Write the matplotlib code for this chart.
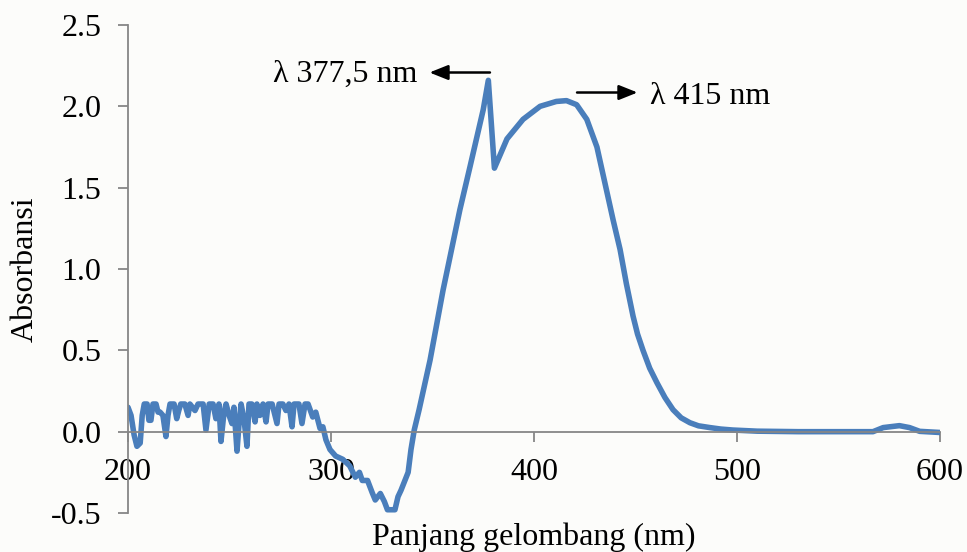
import matplotlib
matplotlib.use("Agg")
import matplotlib.pyplot as plt

# Wavelength (nm) and absorbance
wavelength = [200, 201.5, 203, 204.4, 206, 207, 208, 209.4, 210.3, 211.3, 212.3, 213.8,
              214.8, 215.8, 217.2, 218.7, 219.7, 220.7, 222.7, 224, 225, 226, 228, 229.6,
              230.5, 233, 234.5, 237, 238.4, 240, 241.9, 243.3, 244.8, 245.8, 247.3, 248.3,
              249.8, 251.2, 252.2, 253.7, 254.7, 255.7, 257.1, 258.6, 259.6, 261, 262.6,
              263.5, 265, 266.5, 268, 269, 271, 272.4, 273.4, 274.4, 276.3, 277.8, 279.3,
              280.8, 281.8, 284.2, 285.7, 287.2, 288.7,
              291, 292.5, 294.6, 296, 297.5, 299.5, 302.3, 305.8, 309.2, 312, 314, 315.4,
              318, 320.3, 321.8, 324.3, 326.3, 327.8, 330, 331.5, 333, 334.5, 338, 339.4,
              341, 343.4, 348.8, 355.2, 363.5, 368.5, 375, 377.5, 380.5, 386.7, 394.6,
              403, 411, 416, 421, 426, 431, 436, 439, 442.4, 445.5, 448.8, 451, 453.7,
              457, 460.6, 464.5, 468.5, 472.5, 476.8, 481, 486.7, 492, 498, 510, 530,
              550, 567, 572, 580, 585, 590, 600]
absorbance = [0.15, 0.10, -0.02, -0.09, -0.07, 0.10, 0.17, 0.17, 0.07, 0.07, 0.17, 0.17,
              0.12, 0.12, 0.10, -0.03, 0.10, 0.17, 0.17, 0.08, 0.13, 0.17, 0.17, 0.10,
              0.17, 0.13, 0.17, 0.17, 0.01, 0.17, 0.17, 0.08, 0.17, -0.06, 0.12, 0.17,
              0.10, 0.05, 0.15, -0.12, 0.05, 0.17, 0.08, -0.09, 0.17, 0.17, 0.06,
              0.17, 0.10, 0.17, 0.06, 0.17, 0.17, 0.10, 0.05, 0.17, 0.17, 0.13, 0.17,
              0.03, 0.17, 0.17, 0.05, 0.17, 0.17,
              0.09, 0.12, 0.02, 0.03, -0.05, -0.11, -0.15, -0.17, -0.21, -0.28, -0.25, -0.30,
              -0.30, -0.375, -0.42, -0.38, -0.43, -0.48, -0.48, -0.48, -0.40, -0.36, -0.25, -0.11,
              0.01, 0.135, 0.44, 0.87, 1.365, 1.63, 1.98, 2.16, 1.62, 1.80, 1.92,
              2.00, 2.03, 2.035, 2.01, 1.92, 1.75, 1.47, 1.30, 1.12, 0.91, 0.71, 0.60, 0.50,
              0.39, 0.30, 0.21, 0.135, 0.085, 0.055, 0.036, 0.025, 0.016, 0.01, 0.003, 0.0,
              0.0, 0.0, 0.025, 0.037, 0.025, 0.002, -0.005]

x_ticks = [200, 300, 400, 500, 600]
y_ticks = [-0.5, 0.0, 0.5, 1.0, 1.5, 2.0, 2.5]
y_tick_labels = ["-0.5", "0.0", "0.5", "1.0", "1.5", "2.0", "2.5"]

plt.rcParams['font.family'] = ['Liberation Serif', 'DejaVu Serif']
FS = 23

fig = plt.figure(figsize=(9.67, 5.52), dpi=100)
fig.patch.set_facecolor('#fcfcfa')
ax = fig.add_axes([0.13237, 0.07065, 0.83971, 0.88406])
ax.set_facecolor('none')

ax.plot(wavelength, absorbance, color='#4a7ebb', lw=4.0, solid_joinstyle='round',
        solid_capstyle='round')

ax.set_xlim(200, 600)
ax.set_ylim(-0.5, 2.5)
ax.set_xticks(x_ticks)
ax.set_xticklabels([str(t) for t in x_ticks])
ax.set_yticks(y_ticks)
ax.set_yticklabels(y_tick_labels)

for s in ['top', 'right']:
    ax.spines[s].set_visible(False)
ax.spines['bottom'].set_position(('data', 0))
for s in ['left', 'bottom']:
    ax.spines[s].set_color('#868686')
    ax.spines[s].set_linewidth(1.3)

ax.tick_params(axis='both', colors='#868686', labelcolor='black', labelsize=FS,
               length=7, width=1.3, direction='out', pad=12)

arrow_style = dict(arrowstyle='-|>,head_length=0.75,head_width=0.3',
                   color='black', lw=1.8, mutation_scale=15, shrinkA=0, shrinkB=0)
ax.annotate('', xy=(348.5, 2.208), xytext=(378.3, 2.208), arrowprops=arrow_style)
ax.text(271.4, 2.195, 'λ 377,5 nm', fontsize=FS, ha='left', va='center')
ax.annotate('', xy=(451.0, 2.085), xytext=(421.2, 2.085), arrowprops=arrow_style)
ax.text(457, 2.06, 'λ 415 nm', fontsize=FS, ha='left', va='center')

fig.text(534/967, 1 - 537/552, 'Panjang gelombang (nm)', fontsize=FS, ha='center', va='center')
fig.text(25/967, 1 - 269/552, 'Absorbansi', fontsize=FS, ha='center', va='center', rotation=90)

fig.savefig('out.png', dpi=100, facecolor=fig.get_facecolor())
